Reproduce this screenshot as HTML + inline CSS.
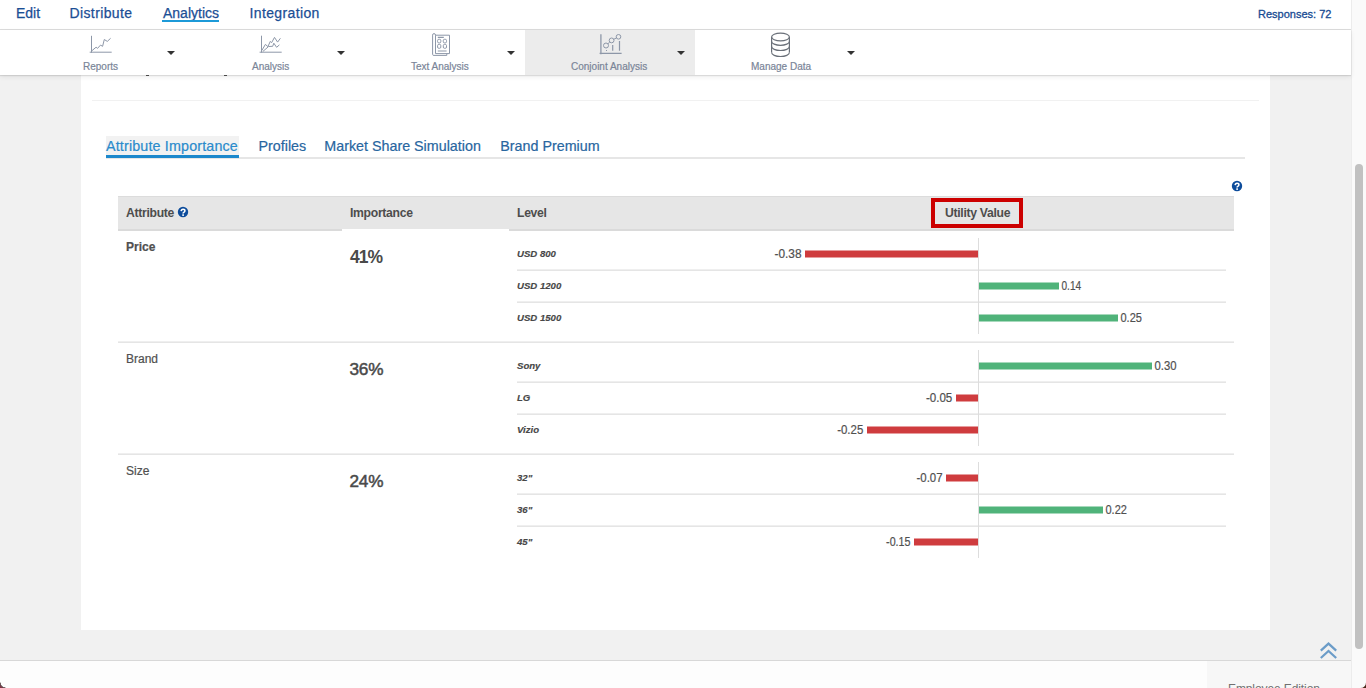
<!DOCTYPE html>
<html><head><meta charset="utf-8">
<style>
*{box-sizing:border-box;margin:0;padding:0}
html,body{width:1366px;height:688px;overflow:hidden;background:#f1f1f1;font-family:"Liberation Sans",sans-serif}
.a{position:absolute}
.t{position:absolute;white-space:nowrap;line-height:1}
#top{left:0;top:0;width:1351px;height:30px;background:#fff;border-bottom:1px solid #dcdcdc}
.nav{font-size:14px;color:#1b4e95;top:6px;-webkit-text-stroke:0.25px #1b4e95}
#tb{left:0;top:30px;width:1351px;height:45px;background:#fff;box-shadow:0 1px 1px rgba(0,0,0,.10),0 2px 5px rgba(0,0,0,.07)}
.tl{font-size:10px;color:#7a8598;top:62px;-webkit-text-stroke:0.2px #7a8598}
.car{position:absolute;top:51px;width:0;height:0;border-left:4px solid transparent;border-right:4px solid transparent;border-top:4px solid #333}
#panel{left:81px;top:60px;width:1189px;height:570px;background:#fff}
.tab{font-size:14.3px;top:138.7px;color:#28669f;-webkit-text-stroke:0.2px currentColor}
.th{font-size:12.2px;font-weight:bold;color:#4d4d4d;top:207px;letter-spacing:-0.3px}
.lv{font-size:9.6px;font-weight:bold;font-style:italic;color:#474747;-webkit-text-stroke:0.15px #474747}
.imp{font-size:17.5px;font-weight:bold;color:#4a4a4a;letter-spacing:-0.5px}
.at{font-size:12px;color:#505050;-webkit-text-stroke:0.2px #505050}
.hl{position:absolute;height:2px;background:linear-gradient(#efefef 50%,#e5e5e5 50%)}
.help{position:absolute;width:11px;height:11px;border-radius:50%;background:#0d4c9b;color:#fff;font-size:9px;font-weight:bold;line-height:11px;text-align:center}
</style></head><body>

<!-- main panel -->
<div id="panel" class="a"></div>
<div class="a" style="left:92px;top:100px;width:1167px;height:1px;background:#f1f1f1"></div>

<!-- tabs -->
<div class="a" style="left:106px;top:136px;width:133px;height:20px;background:#f2f2f2"></div>
<div class="a" style="left:106px;top:157px;width:1139px;height:2px;background:#e6e6e6"></div>
<div class="a" style="left:106px;top:155px;width:133px;height:3px;background:#1c88cc"></div>
<div class="t tab" style="left:106px;color:#2a8bcc;letter-spacing:0.16px">Attribute Importance</div>
<div class="t tab" style="left:258.5px">Profiles</div>
<div class="t tab" style="left:324.3px">Market Share Simulation</div>
<div class="t tab" style="left:500.3px">Brand Premium</div>

<svg class="a" style="left:1231.05px;top:180.1px" width="12" height="12" viewBox="0 0 12 12">
<circle cx="6" cy="6" r="5.2" fill="#0d4c9b"/>
<path d="M4.2 5.1Q4.3 3.2 6.1 3.2Q7.9 3.2 7.9 4.8Q7.9 5.8 6.8 6.4Q6.1 6.8 6.1 7.6" fill="none" stroke="#fff" stroke-width="1.6"/>
<rect x="5.25" y="8.3" width="1.7" height="1.6" fill="#fff"/>
</svg>

<!-- table header -->
<div class="a" style="left:118px;top:196px;width:1116px;height:35px;background:#e6e6e6;border-top:1px solid #dcdcdc"></div>
<div class="a" style="left:118px;top:229px;width:224px;height:2px;background:#dadada"></div>
<div class="a" style="left:509px;top:229px;width:725px;height:2px;background:#dadada"></div>
<div class="a" style="left:342px;top:229px;width:167px;height:2px;background:#fff"></div>
<div class="t th" style="left:126px">Attribute</div>
<svg class="a" style="left:177px;top:206.3px" width="12" height="12" viewBox="0 0 12 12">
<circle cx="6" cy="6" r="5.2" fill="#0d4c9b"/>
<path d="M4.2 5.1Q4.3 3.2 6.1 3.2Q7.9 3.2 7.9 4.8Q7.9 5.8 6.8 6.4Q6.1 6.8 6.1 7.6" fill="none" stroke="#fff" stroke-width="1.6"/>
<rect x="5.25" y="8.3" width="1.7" height="1.6" fill="#fff"/>
</svg>
<div class="t th" style="left:350px">Importance</div>
<div class="t th" style="left:517px">Level</div>
<div class="t th" style="left:945px">Utility Value</div>
<div class="a" style="left:931px;top:198px;width:92px;height:30px;border:4px solid #cc0000"></div>

<!-- rows -->
<div class="hl" style="left:118px;top:341px;width:1116px"></div>
<div class="hl" style="left:118px;top:453px;width:1116px"></div>
<div class="hl" style="left:517px;top:269px;width:709px"></div>
<div class="hl" style="left:517px;top:301px;width:709px"></div>
<div class="hl" style="left:517px;top:381px;width:709px"></div>
<div class="hl" style="left:517px;top:413px;width:709px"></div>
<div class="hl" style="left:517px;top:493px;width:709px"></div>
<div class="hl" style="left:517px;top:525px;width:709px"></div>

<div class="t at" style="left:126px;top:241px;font-weight:bold">Price</div>
<div class="t at" style="left:126px;top:353px">Brand</div>
<div class="t at" style="left:126px;top:465px">Size</div>
<div class="t imp" style="left:350px;top:248.5px;letter-spacing:-1px">41%</div>
<div class="t imp" style="left:349.5px;top:361px;font-weight:normal;font-size:17.2px;letter-spacing:-0.2px;-webkit-text-stroke:0.5px #4a4a4a">36%</div>
<div class="t imp" style="left:349.5px;top:473px;font-weight:normal;font-size:17.2px;letter-spacing:-0.2px;-webkit-text-stroke:0.5px #4a4a4a">24%</div>

<div class="t lv" style="left:517px;top:249px">USD 800</div>
<div class="t lv" style="left:517px;top:281px">USD 1200</div>
<div class="t lv" style="left:517px;top:313px">USD 1500</div>
<div class="t lv" style="left:517px;top:361px">Sony</div>
<div class="t lv" style="left:517px;top:393px">LG</div>
<div class="t lv" style="left:517px;top:425px">Vizio</div>
<div class="t lv" style="left:517px;top:473px">32"</div>
<div class="t lv" style="left:517px;top:505px">36"</div>
<div class="t lv" style="left:517px;top:537px">45"</div>

<!-- chart -->
<svg class="a" style="left:0;top:0" width="1366" height="688">
<g fill="#dddddd">
<rect x="978" y="238" width="1" height="96"/>
<rect x="978" y="350" width="1" height="96"/>
<rect x="978" y="462" width="1" height="96"/>
</g>
<g fill="#cf3c3e">
<rect x="805" y="250.5" width="173" height="7"/>
<rect x="956" y="394.5" width="22" height="7"/>
<rect x="867" y="426.5" width="111" height="7"/>
<rect x="946" y="474.5" width="32" height="7"/>
<rect x="914" y="538.5" width="64" height="7"/>
</g>
<g fill="#50b37a">
<rect x="979" y="282.5" width="80" height="7"/>
<rect x="979" y="314.5" width="139" height="7"/>
<rect x="979" y="362.5" width="173" height="7"/>
<rect x="979" y="506.5" width="124" height="7"/>
</g>
<g font-family="Liberation Sans" font-size="12" fill="#505050" stroke="#505050" stroke-width="0.2">
<text x="801.5" y="258" text-anchor="end" textLength="27" lengthAdjust="spacingAndGlyphs">-0.38</text>
<text x="1061.5" y="290" textLength="19.6" lengthAdjust="spacingAndGlyphs">0.14</text>
<text x="1120.5" y="322" textLength="21.4" lengthAdjust="spacingAndGlyphs">0.25</text>
<text x="1154.5" y="370" textLength="22" lengthAdjust="spacingAndGlyphs">0.30</text>
<text x="952.3" y="402" text-anchor="end" textLength="26.4" lengthAdjust="spacingAndGlyphs">-0.05</text>
<text x="863.3" y="434" text-anchor="end" textLength="26.1" lengthAdjust="spacingAndGlyphs">-0.25</text>
<text x="942.5" y="482" text-anchor="end" textLength="26" lengthAdjust="spacingAndGlyphs">-0.07</text>
<text x="1105.5" y="514" textLength="21.4" lengthAdjust="spacingAndGlyphs">0.22</text>
<text x="910.5" y="546" text-anchor="end" textLength="24.4" lengthAdjust="spacingAndGlyphs">-0.15</text>
</g>
</svg>

<!-- bottom -->
<div class="a" style="left:0;top:660px;width:1351px;height:1px;background:#d8d8d8"></div>
<div class="a" style="left:0;top:661px;width:1351px;height:27px;background:#fdfdfd"></div>
<div class="a" style="left:1207px;top:661px;width:144px;height:27px;background:#f7f7f7"></div>
<div class="t" style="left:1228px;top:683px;font-size:12px;color:#707070;letter-spacing:-0.1px">Employee Edition</div>
<svg class="a" style="left:1319px;top:642px" width="19" height="18" viewBox="0 0 19 18">
<polyline points="1.8,8.6 9.5,1.6 17.2,8.6" fill="none" stroke="#6b9cc8" stroke-width="2.2"/>
<polyline points="1.8,16 9.5,9 17.2,16" fill="none" stroke="#6b9cc8" stroke-width="2.2"/>
</svg>

<!-- scrollbar -->
<div class="a" style="left:1351px;top:0;width:15px;height:688px;background:#fafafa;border-left:1px solid #ececec"></div>
<div class="a" style="left:1355px;top:164px;width:8px;height:485px;background:#c1c1c1;border-radius:4px"></div>

<div class="a" style="left:146px;top:75px;width:3px;height:1px;background:#555"></div>
<div class="a" style="left:224px;top:75px;width:3px;height:1px;background:#555"></div>
<!-- top nav -->
<div id="top" class="a"></div>
<div class="t nav" style="left:16px">Edit</div>
<div class="t nav" style="left:69.5px;letter-spacing:0.38px">Distribute</div>
<div class="t nav" style="left:163px">Analytics</div>
<div class="a" style="left:162px;top:20px;width:57px;height:2px;background:#1d9ad8"></div>
<div class="t nav" style="left:249.5px;letter-spacing:0.37px">Integration</div>
<div class="t" style="left:1258px;top:8.6px;font-size:11px;color:#184b93;-webkit-text-stroke:0.3px #184b93">Responses: 72</div>

<!-- toolbar -->
<div id="tb" class="a"></div>
<div class="a" style="left:525px;top:30px;width:170px;height:45px;background:#ececec"></div>
<div class="t tl" style="left:83px">Reports</div>
<div class="t tl" style="left:252px">Analysis</div>
<div class="t tl" style="left:411px">Text Analysis</div>
<div class="t tl" style="left:571px">Conjoint Analysis</div>
<div class="t tl" style="left:751px">Manage Data</div>

<!-- toolbar icons -->
<svg class="a" style="left:0;top:0" width="900" height="80">
<g fill="none" stroke="#8d97a8" stroke-width="1">
<path d="M91.5 35.8V52.7M89.7 52.2H111.7"/>
<polyline points="91.8,50.8 96.1,47.2 97.5,48.4 100.5,45.1 102.6,46.3 104.3,39.5 107.3,41.4 110.6,38.3"/>
<path d="M261.5 35.7V52.6M259.6 52.2H281.7"/>
<polyline points="261.8,50.5 265.4,44.4 267.9,46.6 270.3,41.4 271.6,42.7 274.5,37.4 277.6,42.1 280.4,38.3"/>
<polyline points="262.8,51.5 268.6,46.5 272.7,46.3 273.8,43.2 276.6,47.3 279.4,44.9"/>
<path d="M435.5 53.6V35.2H449.5V53.6H435.5Z"/>
<path d="M432.6 54.5V35.1Q432.6 33.6 434 33.6Q435.5 33.6 435.5 35.1"/>
<path d="M432.6 54.5Q432.6 55.4 434 55.4H446.8V53.6"/>
<rect x="437.6" y="39.3" width="3.2" height="3.6" rx="1.2"/>
<rect x="443.3" y="39.3" width="3.2" height="3.6" rx="1.2"/>
<rect x="437.6" y="44.4" width="3.2" height="3.9" rx="1.2"/>
<rect x="443.3" y="44.4" width="3.2" height="3.9" rx="1.2"/>
<path d="M437.8 37.4H443.8M437.8 51H446.6" stroke-width="1.2"/>
<path d="M600.9 34.3V54.3M599.6 53.4H621.6" stroke-width="1.3"/>
<circle cx="606" cy="45.5" r="2.5"/>
<circle cx="611.6" cy="40.4" r="2.4"/>
<circle cx="618.5" cy="36.8" r="2.3"/>
<path d="M607.9 43.8L609.8 42M613.7 39.3L616.4 38"/>
<path d="M612.7 45V50.7M619.5 41.1V50.7" stroke-width="1.2"/>
</g>
<rect x="606" y="50" width="1" height="1" fill="#8d97a8"/>
<g fill="none" stroke="#6a7079" stroke-width="1.2">
<ellipse cx="780.5" cy="37" rx="8.9" ry="3.9"/>
<path d="M771.6 37V52.6M789.4 37V52.6"/>
<path d="M771.6 41.4A8.9 3.9 0 0 0 789.4 41.4"/>
<path d="M771.6 46.6A8.9 3.9 0 0 0 789.4 46.6"/>
<path d="M771.6 52.6A8.9 3.9 0 0 0 789.4 52.6"/>
</g>
</svg>
<div class="car" style="left:167px"></div>
<div class="car" style="left:337px"></div>
<div class="car" style="left:507px"></div>
<div class="car" style="left:677px"></div>
<div class="car" style="left:847px"></div>


<svg class="a" style="left:0;top:676px" width="12" height="12" viewBox="0 0 12 12">
<path d="M0 6.5A5.5 5.5 0 0 0 5.5 12H0Z" fill="#7e3444"/>
<path d="M0 6.5A5.5 5.5 0 0 0 5.5 12" fill="none" stroke="#3b2a2c" stroke-width="1"/>
</svg>
<svg class="a" style="left:1354px;top:676px" width="12" height="12" viewBox="0 0 12 12">
<path d="M12 6.5A5.5 5.5 0 0 1 6.5 12H12Z" fill="#4a2418"/>
</svg>
</body></html>
